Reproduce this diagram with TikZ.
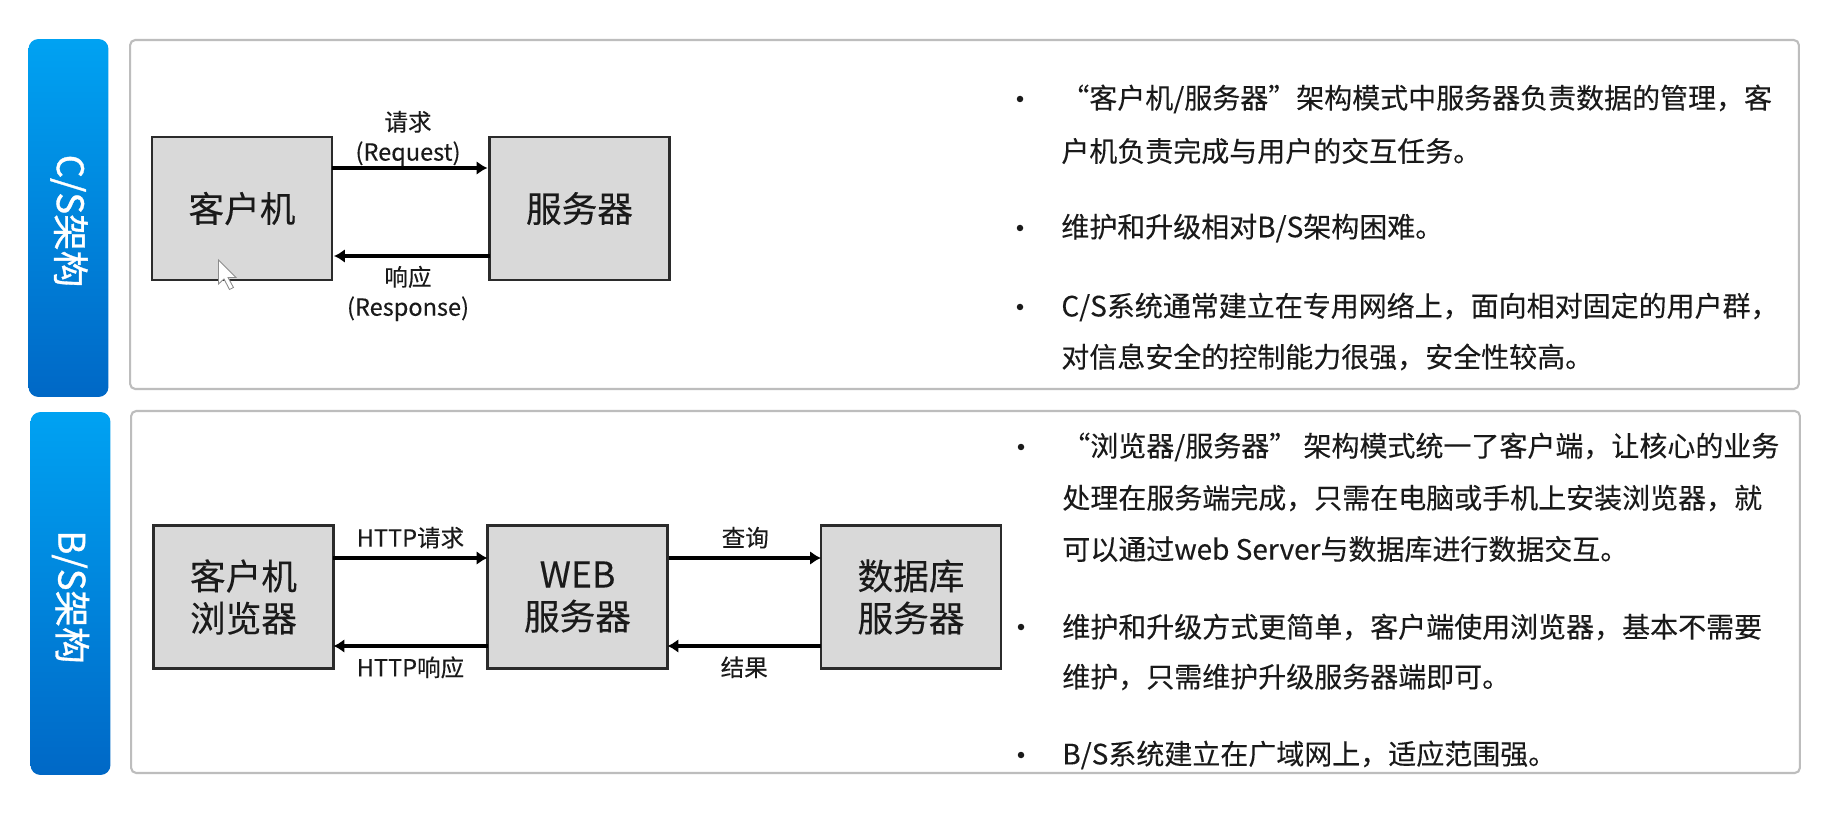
\documentclass[tikz,border=0pt]{standalone}
\usepackage{fontspec}
\setmainfont[FakeBold=0.2]{Noto Sans CJK SC}
\usetikzlibrary{positioning,arrows.meta,calc}
\definecolor{TabTop}{HTML}{00A2F2}
\definecolor{TabBot}{HTML}{0068C6}
\definecolor{PanelLine}{HTML}{BDBDBD}
\definecolor{BoxFill}{HTML}{D9D9D9}
\definecolor{BoxLine}{HTML}{2B2B2B}
\definecolor{TxtInk}{HTML}{1A1A1A}

\begin{document}
\begin{tikzpicture}[
  x=0.02cm, y=-0.02cm, >={Latex[length=2.2mm,width=2.8mm]},
  tab/.style={rounded corners=2mm,top color=TabTop,bottom color=TabBot,draw=none,
              minimum width=1.6cm,outer sep=0pt},
  tabtxt/.style={rotate=-90,text=white,inner sep=0pt,
                 font=\addfontfeature{FakeBold=0.9}\fontsize{20.8}{20.8}\selectfont},
  panel/.style={draw=PanelLine,line width=1.2pt,fill=white,rounded corners=1mm,
                minimum width=33.38cm,outer sep=0pt},
  box/.style={draw=BoxLine,line width=1.2pt,fill=BoxFill,align=center,outer sep=0pt,
              minimum width=3.6cm,minimum height=2.86cm,text=TxtInk,
              font=\fontsize{20.3}{24}\selectfont},
  lab/.style={align=center,inner sep=0pt,text=TxtInk,font=\fontsize{13.4}{17}\selectfont},
  dotb/.style={circle,fill=TxtInk,inner sep=0pt,minimum size=0.13cm},
  line/.style={anchor=west,inner sep=0pt,text=TxtInk,font=\fontsize{15.93}{15.93}\selectfont},
  k/.style={->,line width=1.8pt,black},
]
\fill[white] (0,0) rectangle (1841,820);
\useasboundingbox (0,0) rectangle (1841,820);

% left tabs and panels
\node[tab,minimum height=7.16cm] (tabc) at (68.5,218) {};
\node[tab,minimum height=7.26cm] (tabb) at (70.5,593.5) {};
\node[tabtxt] (tabctxt) at (69,221) {C/S架构};
\node[tabtxt] (tabbtxt) at (70.5,597) {B/S架构};
\node[panel,minimum height=6.98cm] (panc) at (964.5,214.5) {};
\node[panel,minimum height=7.24cm] (panb) at (965.5,592) {};

% C/S
\node[box] (cli) at (242,208.5) {客户机};
\node[box] (srv) at (579.5,208.5) {服务器};
\draw[k] ($(cli.east)+(0,-40.5)$) -- ($(srv.west)+(-2,-40.5)$);
\draw[k] ($(srv.west)+(0,47.5)$) -- ($(cli.east)+(2,47.5)$);
\node[lab] (req) at (408,138.5) {请求\\(Request)};
\node[lab] (res) at (408,293.5) {响应\\(Response)};

% mouse pointer
\draw[fill=white,draw=black!45,line width=0.5pt] (cli.center) ++(-23.5,51.5) coordinate (ptr)
  -- ++(0,24) -- ++(5.5,-5) -- ++(5.5,10.5) -- ++(4,-2) -- ++(-5.5,-10) -- ++(8,0) -- cycle;

% B/S
\node[box] (bro) at (243.5,597) {客户机\\浏览器};
\node[box] (web) at (577.5,597) {WEB\\服务器};
\node[box] (dbs) at (911,597) {数据库\\服务器};
\draw[k] ($(bro.east)+(0,-39)$) -- node[lab,above=4.5pt] (hreq) {HTTP请求} ($(web.west)+(0,-39)$);
\draw[k] ($(web.west)+(0,49)$) -- node[lab,below=5pt] (hres) {HTTP响应} ($(bro.east)+(0,49)$);
\draw[k] ($(web.east)+(2,-39)$) -- node[lab,above=4.5pt] (qry) {查询} ($(dbs.west)+(0,-39)$);
\draw[k] ($(dbs.west)+(0,49)$) -- node[lab,below=5pt] (rst) {结果} ($(web.east)+(0,49)$);

% C/S notes
\node[dotb] (d1) at (1020,99) {};
\node[line] (l1) at (1061,99) {“客户机/服务器”架构模式中服务器负责数据的管理，客};
\node[line] (l2) at (1061,151) {户机负责完成与用户的交互任务。};
\node[dotb] (d2) at (1020,228) {};
\node[line] (l3) at (1061,228) {维护和升级相对B/S架构困难。};
\node[dotb] (d3) at (1020,307) {};
\node[line] (l4) at (1061,307) {C/S系统通常建立在专用网络上，面向相对固定的用户群，};
\node[line] (l5) at (1061,357) {对信息安全的控制能力很强，安全性较高。};

% B/S notes
\node[dotb] (d4) at (1021,447) {};
\node[line] (m1) at (1062,447) {“浏览器/服务器” 架构模式统一了客户端，让核心的业务};
\node[line] (m2) at (1062,498) {处理在服务端完成，只需在电脑或手机上安装浏览器，就};
\node[line] (m3) at (1062,549) {可以通过web Server与数据库进行数据交互。};
\node[dotb] (d5) at (1021,627) {};
\node[line] (m4) at (1062,627) {维护和升级方式更简单，客户端使用浏览器，基本不需要};
\node[line] (m5) at (1062,677) {维护，只需维护升级服务器端即可。};
\node[dotb] (d6) at (1021,755) {};
\node[line] (m6) at (1062,755) {B/S系统建立在广域网上，适应范围强。};
\end{tikzpicture}
\end{document}
